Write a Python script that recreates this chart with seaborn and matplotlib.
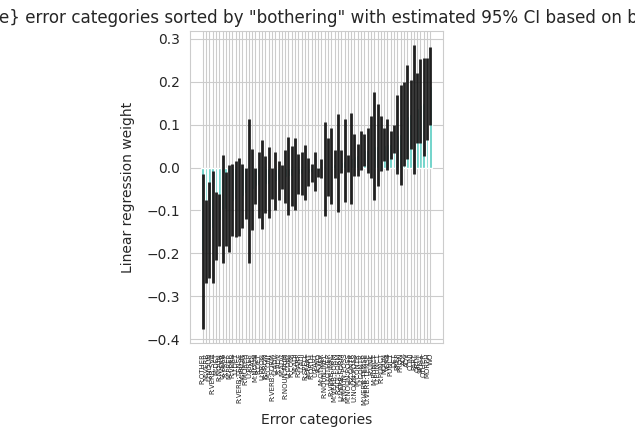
import numpy as np
import pandas as pd
import matplotlib
matplotlib.use("Agg")
import matplotlib.pyplot as plt
import seaborn as sns

categories = [
    "R:OTHER", "M:VERB", "U:NOUN", "R:VERB:SVA", "M:DET", "R:NOUN", "U:VERB", "R:PREP", "M:PREP", "R:VERB",
    "U:DET", "R:VERB:TENSE", "M:PRON", "R:MORPH", "U:PREP", "R:ADJ", "M:NOUN", "R:DET", "U:PRON", "R:PRON",
    "M:CONJ", "R:VERB:FORM", "U:ADV", "R:ADV", "M:ADV", "R:NOUN:NUM", "U:CONJ", "R:CONJ", "M:ADJ", "R:PART",
    "U:ADJ", "R:SPELL", "M:PART", "R:ORTH", "U:PART", "R:WO", "M:OTHER", "R:NOUN:INFL", "U:OTHER", "R:VERB:INFL",
    "M:VERB:FORM", "R:ADJ:FORM", "U:VERB:FORM", "R:NOUN:POSS", "M:NOUN:POSS", "R:CONTR", "U:NOUN:POSS", "M:CONTR", "U:CONTR", "M:VERB:TENSE",
    "U:VERB:TENSE", "R:UNK", "M:PUNCT", "U:PUNCT", "R:PUNCT", "NOUN", "VERB", "PUNCT", "DET", "PREP",
    "PRON", "ADJ", "ADV", "CONJ", "PART", "ORTH", "SPELL", "OTHER", "MORPH", "WO",
]

weights = [
    -0.194, -0.171, -0.146, -0.140, -0.137, -0.122, -0.098, -0.097, -0.095, -0.077,
    -0.074, -0.069, -0.066, -0.060, -0.055, -0.051, -0.044, -0.041, -0.040, -0.039,
    -0.038, -0.036, -0.032, -0.030, -0.022, -0.021, -0.020, -0.019, -0.016, -0.015,
    -0.014, -0.013, -0.012, -0.011, -0.010, -0.009, -0.003, -0.002, 0.001, 0.004,
    0.008, 0.011, 0.013, 0.015, 0.016, 0.021, 0.026, 0.028, 0.038, 0.040,
    0.041, 0.048, 0.050, 0.051, 0.052, 0.053, 0.054, 0.055, 0.066, 0.075,
    0.077, 0.101, 0.120, 0.124, 0.136, 0.139, 0.145, 0.150, 0.159, 0.190,
]

ci_low = [
    -0.376, -0.268, -0.257, -0.268, -0.216, -0.183, -0.222, -0.183, -0.197, -0.160,
    -0.162, -0.160, -0.141, -0.120, -0.222, -0.145, -0.086, -0.117, -0.143, -0.106,
    -0.117, -0.073, -0.099, -0.075, -0.050, -0.082, -0.110, -0.089, -0.099, -0.061,
    -0.064, -0.076, -0.044, -0.034, -0.054, -0.022, -0.024, -0.112, -0.067, -0.084,
    -0.024, -0.103, -0.012, -0.081, -0.010, -0.085, -0.020, -0.020, -0.005, 0.003,
    -0.012, -0.024, -0.075, -0.044, -0.009, 0.015, -0.005, 0.019, 0.033, -0.016,
    -0.040, 0.003, 0.019, 0.042, -0.016, 0.058, 0.058, 0.026, 0.064, 0.100,
]

ci_high = [
    -0.016, -0.075, -0.033, -0.009, -0.058, -0.061, 0.028, -0.011, 0.006, 0.009,
    0.015, 0.023, 0.009, 0.000, 0.112, 0.044, 0.000, 0.035, 0.064, 0.026,
    0.047, -0.002, 0.035, 0.015, 0.006, 0.040, 0.070, 0.051, 0.068, 0.032,
    0.037, 0.053, 0.023, 0.009, 0.035, -0.001, 0.019, 0.107, 0.068, 0.091,
    0.040, 0.125, 0.040, 0.113, 0.030, 0.127, 0.077, 0.055, 0.085, 0.077,
    0.091, 0.121, 0.175, 0.148, 0.119, 0.091, 0.113, 0.084, 0.099, 0.168,
    0.192, 0.199, 0.238, 0.204, 0.285, 0.219, 0.252, 0.254, 0.254, 0.280,
]

sns.set_style("whitegrid")

df = pd.DataFrame({"category": categories, "weight": weights,
                   "low": ci_low, "high": ci_high})

fig, ax = plt.subplots(figsize=(6.35, 4.3), dpi=100)
fig.subplots_adjust(left=0.299, right=0.698, bottom=0.202, top=0.928)

sns.barplot(data=df, x="category", y="weight", color="turquoise", errorbar=None, ax=ax)

# error bars from the precomputed bootstrap interval, at the bar centres
centres = [p.get_x() + p.get_width() / 2 for p in ax.patches]
ax.vlines(centres, df["low"], df["high"], color=".12", linewidth=2)

ax.autoscale(axis="x")
ax.margins(x=0.05)
ax.xaxis.grid(True)
ax.set_axisbelow(True)

ax.tick_params(axis="x", labelrotation=90, labelsize=5)
ax.set_xlabel("Error categories", labelpad=6)
ax.set_ylabel("Linear regression weight", labelpad=8)
ax.set_title('All {name} error categories sorted by "bothering" with estimated 95% CI based on bootstrap',
             fontsize=12.1)

plt.savefig("out.png", dpi=100)
